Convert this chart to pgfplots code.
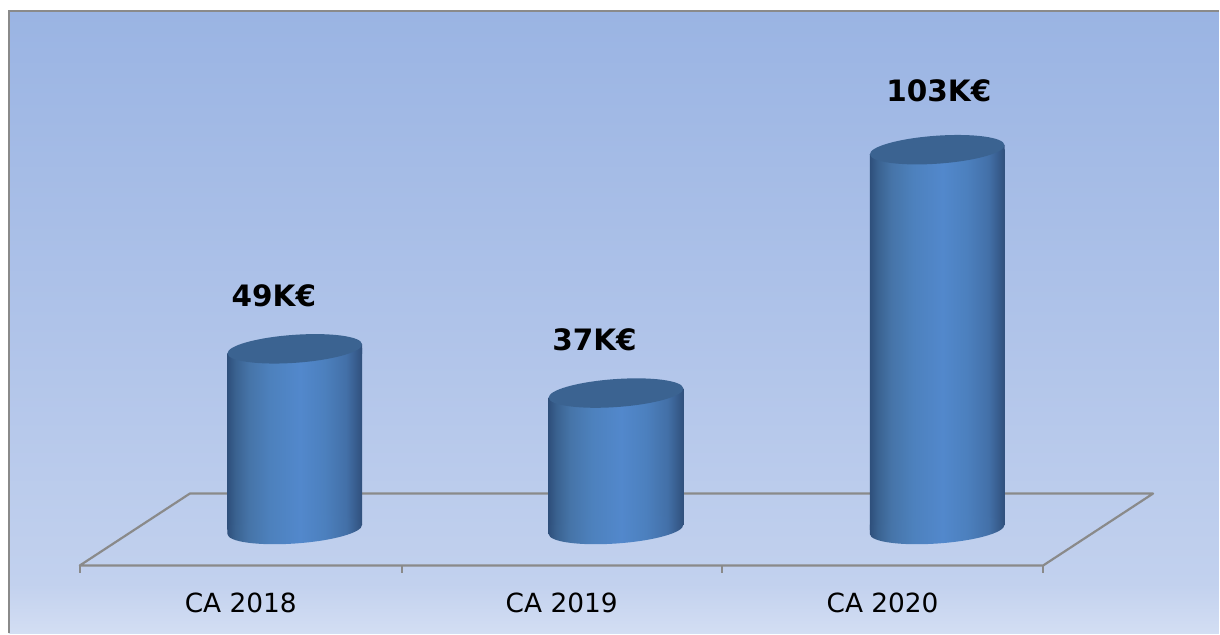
\documentclass[border=0pt]{standalone}
\usepackage{pgfplots}
\pgfplotsset{compat=1.18}
\usepackage{fontspec}
\setmainfont{DejaVu Sans}
\definecolor{cylA}{HTML}{2E4F7B}
\definecolor{cylA2}{HTML}{3A6290}
\definecolor{cylB}{HTML}{4674A8}
\definecolor{cylB2}{HTML}{4D81BD}
\definecolor{cylC}{HTML}{5288CC}
\definecolor{cylD}{HTML}{4C80BE}
\definecolor{cylD2}{HTML}{4370A8}
\definecolor{cylE}{HTML}{30507C}
\definecolor{capC}{HTML}{3B6391}
\definecolor{frameC}{HTML}{8A8A8A}
\definecolor{bgT}{HTML}{9AB4E3}
\definecolor{bgM}{HTML}{AFC3E9}
\definecolor{bgL}{HTML}{C2D1EE}
\definecolor{bgB}{HTML}{D3DEF3}
\pgfdeclarehorizontalshading{cyl}{100bp}{
  color(0bp)=(cylA); color(25bp)=(cylA); color(28bp)=(cylA2); color(33bp)=(cylB); color(41bp)=(cylB2);
  color(52bp)=(cylC); color(61bp)=(cylD); color(69bp)=(cylD2); color(75bp)=(cylE); color(100bp)=(cylE)}
\pgfdeclareverticalshading{bgs}{100bp}{
  color(0bp)=(bgB); color(25bp)=(bgB); color(29bp)=(bgL); color(50bp)=(bgM); color(75bp)=(bgT); color(100bp)=(bgT)}
\pgfdeclareplotmark{capmark}{
  \shade[shading=cyl, draw=none] (canvas cs:x=-67.5pt,y=-4.7pt) -- (canvas cs:x=67.5pt,y=4.7pt) -- (canvas cs:x=67.5pt,y=-5pt) -- (canvas cs:x=-67.5pt,y=-5pt) -- cycle;
  \fill[capC, draw=none] (canvas cs:x=0pt,y=0pt) ellipse [x radius=67.5pt, y radius=14pt, rotate=4];}
\pgfdeclareplotmark{basemark}{
  \shade[shading=cyl, draw=none] (canvas cs:x=0pt,y=0pt) ellipse [x radius=67.5pt, y radius=14pt, rotate=4]
     (canvas cs:x=-67.5pt,y=-4.7pt) -- (canvas cs:x=67.5pt,y=4.7pt) -- (canvas cs:x=67.5pt,y=5pt) -- (canvas cs:x=-67.5pt,y=5pt) -- cycle;}
\pgfplotstableread{
x y
0 49
1 37
2 103
}\cadata
\begin{document}
\begin{tikzpicture}
\begin{axis}[
  anchor=south west, at={(0pt,0pt)},
  scale only axis, width=1220pt, height=634pt,
  xmin=-0.9176, xmax=2.877, ymin=-28.18, ymax=143.6,
  axis lines=none, clip=false,
  ybar, bar width=135pt, bar shift=0pt,
  execute at end plot visualization={\endscope},
]
\path (axis cs:-0.9176,-28.18) rectangle (axis cs:2.877,143.6);
% background and frame
\shade[shading=bgs] (axis cs:-0.8896,-28.18) rectangle (axis cs:2.877,140.65);
\draw[frameC, line width=2.2pt] (axis cs:-0.8896,-28.18) -- (axis cs:-0.8896,140.65) -- (axis cs:2.877,140.65);
% floor
\draw[frameC, line width=2.2pt, line join=round] (axis cs:-0.3266,9.75) -- (axis cs:2.672,9.75) -- (axis cs:2.33,-9.75) -- (axis cs:-0.669,-9.75) -- cycle;
\draw[frameC, line width=1.8pt] (axis cs:-0.669,-9.75) -- (axis cs:-0.669,-11.9);
\draw[frameC, line width=1.8pt] (axis cs:0.333,-9.75) -- (axis cs:0.333,-11.9);
\draw[frameC, line width=1.8pt] (axis cs:1.331,-9.75) -- (axis cs:1.331,-11.9);
\draw[frameC, line width=1.8pt] (axis cs:2.33,-9.75) -- (axis cs:2.33,-11.9);
\addplot[forget plot, only marks, mark=basemark, execute at begin plot visualization={\scope}] coordinates {(0,0) (1,0) (2,0)};
\addplot[draw=none, shade, shading=cyl, forget plot,
  execute at begin plot visualization={\scope\clip (axis cs:-0.22,47.73) -- (axis cs:0.22,50.27) -- (axis cs:0.22,1.27) -- (axis cs:-0.22,-1.27) -- cycle;}] coordinates {(0,49)};
\addplot[draw=none, shade, shading=cyl, forget plot,
  execute at begin plot visualization={\scope\clip (axis cs:0.78,35.73) -- (axis cs:1.22,38.27) -- (axis cs:1.22,1.27) -- (axis cs:0.78,-1.27) -- cycle;}] coordinates {(1,37)};
\addplot[draw=none, shade, shading=cyl, forget plot,
  execute at begin plot visualization={\scope\clip (axis cs:1.78,101.73) -- (axis cs:2.22,104.27) -- (axis cs:2.22,1.27) -- (axis cs:1.78,-1.27) -- cycle;}] coordinates {(2,103)};
\addplot[forget plot, only marks, mark=capmark, execute at begin plot visualization={\scope}] table[x=x,y=y] {\cadata};
\node[font=\fontsize{29.5}{34}\selectfont\bfseries] at (axis cs:-0.065,63.5) {49K€};
\node[font=\fontsize{29.5}{34}\selectfont\bfseries] at (axis cs:0.933,51.5) {37K€};
\node[font=\fontsize{29.5}{34}\selectfont\bfseries] at (axis cs:2.005,119) {103K€};
\node[font=\fontsize{26.4}{31}\selectfont] at (axis cs:-0.168,-19.8) {CA 2018};
\node[font=\fontsize{26.4}{31}\selectfont] at (axis cs:0.831,-19.8) {CA 2019};
\node[font=\fontsize{26.4}{31}\selectfont] at (axis cs:1.83,-19.8) {CA 2020};
\end{axis}
\end{tikzpicture}
\end{document}
